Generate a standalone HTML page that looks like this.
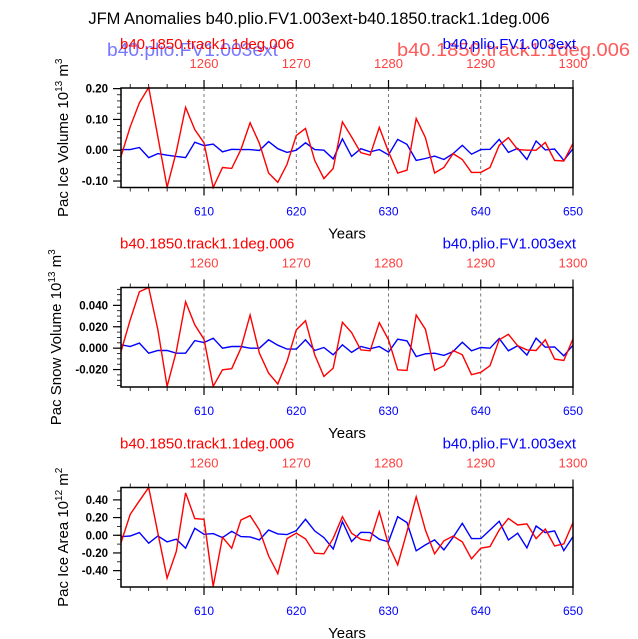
<!DOCTYPE html>
<html><head><meta charset="utf-8"><style>
html,body{margin:0;padding:0;background:#fff;}
svg{display:block;font-family:"Liberation Sans",sans-serif;}
</style></head><body>
<svg id="chart" width="638" height="639" viewBox="0 0 638 639">
<text x="319" y="24" font-size="16.5" text-anchor="middle" fill="#000">JFM Anomalies b40.plio.FV1.003ext-b40.1850.track1.1deg.006</text>
<text x="107" y="56" font-size="18" fill="#7878ff" textLength="171" lengthAdjust="spacingAndGlyphs">b40.plio.FV1.003ext</text>
<text x="397" y="56" font-size="18" fill="#ff5a5a" textLength="233" lengthAdjust="spacingAndGlyphs">b40.1850.track1.1deg.006</text>
<g id="panels"></g>
</svg>
<script>
const years = [];
for (let y = 601; y <= 650; y++) years.push(y);
const xTicks = [610, 620, 630, 640, 650];
const topTickLabels = ["1260", "1270", "1280", "1290", "1300"];
const redLabel = "b40.1850.track1.1deg.006";
const blueLabel = "b40.plio.FV1.003ext";

const iceVolRed = [-0.02,0.076,0.154,0.204,0.043,-0.12,-0.005,0.139,0.067,0.024,-0.121,-0.056,-0.059,0.002,0.089,0.022,-0.074,-0.104,-0.046,0.048,0.071,-0.033,-0.092,-0.059,0.092,0.043,-0.008,-0.016,0.074,-0.005,-0.074,-0.065,0.103,0.041,-0.074,-0.056,-0.011,-0.03,-0.072,-0.072,-0.056,0.016,0.041,0.002,0.0,0.0,0.025,-0.033,-0.035,0.022];
const iceVolBlue = [0.002,0.002,0.009,-0.024,-0.011,-0.016,-0.02,-0.024,0.026,0.015,0.02,-0.005,0.003,0.002,0.002,-0.001,0.028,0.005,-0.007,0.0,0.024,0.002,0.0,-0.028,0.037,-0.02,0.005,-0.005,0.002,-0.015,0.035,0.019,-0.033,-0.027,-0.019,-0.03,-0.011,0.016,-0.013,0.002,0.003,0.035,-0.007,0.006,-0.03,0.03,0.001,0.004,-0.033,0.005];
const snowRed = [-0.0031,0.0264,0.0527,0.0567,0.0171,-0.0357,-0.0031,0.0434,0.0217,0.0084,-0.0357,-0.0202,-0.0192,0,0.031,-0.0047,-0.0233,-0.0335,-0.0124,0.0171,0.0257,-0.0062,-0.0264,-0.0186,0.0242,0.0146,-0.0016,-0.0025,0.0239,0.0078,-0.0202,-0.0208,0.031,0.0177,-0.0208,-0.0164,-0.0022,-0.0062,-0.0248,-0.0226,-0.0164,0.0078,0.013,0.0022,-0.0016,-0.0022,0.0078,-0.0102,-0.0115,0.0087];
const snowBlue = [0.0031,0.0016,0.0047,-0.0047,-0.0022,-0.0022,-0.0047,-0.0047,0.0071,0.0053,0.0093,0,0.0016,0.0016,0,0,0.0078,0.0028,-0.0009,-0.0009,0.0078,-0.0022,0.0006,-0.0062,0.0031,-0.004,0.0016,-0.0006,0.0016,-0.0037,0.0084,0.0068,-0.0078,-0.0053,-0.0047,-0.0068,-0.0031,0.0056,-0.0025,0.0006,0,0.009,-0.0025,0.0022,-0.0065,0.0093,0.0009,0.0012,-0.0071,0.0028];
const areaRed = [-0.083,0.236,0.39,0.54,0.023,-0.484,-0.184,0.48,0.188,0.18,-0.578,-0.023,-0.146,0.173,0.221,0.06,-0.233,-0.435,-0.038,0.023,-0.041,-0.203,-0.21,-0.034,0.21,0.023,-0.045,-0.064,0.266,-0.109,-0.334,0.041,0.435,0.06,-0.21,-0.064,-0.008,-0.075,-0.266,-0.146,-0.128,0.06,0.191,0.116,0.128,-0.038,0.071,-0.12,-0.098,0.143];
const areaBlue = [-0.015,-0.008,0.03,-0.09,-0.008,-0.075,-0.045,-0.146,0.079,0.011,0.019,-0.026,0.045,-0.015,-0.019,-0.053,0.06,0.015,0.008,0.053,0.18,0.049,-0.026,-0.154,0.154,-0.071,0.034,0.03,-0.045,-0.075,0.21,0.143,-0.176,-0.109,-0.053,-0.165,-0.023,0.135,-0.038,-0.038,0.06,0.158,-0.053,0.023,-0.143,0.105,0.03,0.049,-0.173,-0.015];

const iceVolTicks = [0.2, 0.1, 0.0, -0.1];
const iceVolTickLabels = ["0.20", "0.10", "0.00", "-0.10"];
const snowTicks = [0.04, 0.02, 0.0, -0.02];
const snowTickLabels = ["0.040", "0.020", "0.000", "-0.020"];
const areaTicks = [0.4, 0.2, 0.0, -0.2, -0.4];
const areaTickLabels = ["0.40", "0.20", "0.00", "-0.20", "-0.40"];

const NS = "http://www.w3.org/2000/svg";
const root = document.getElementById("panels");
function mk(tag, attrs, parent) {
  const e = document.createElementNS(NS, tag);
  for (const k in attrs) e.setAttribute(k, attrs[k]);
  (parent || root).appendChild(e);
  return e;
}

const panels = [
  {top: 88, yMin: -0.121, yMax: 0.202, red: iceVolRed, blue: iceVolBlue, ticks: iceVolTicks, labels: iceVolTickLabels, minor: 0.02, title: ["Pac Ice Volume 10", "13", " m", "3"], tx: 68, name: "ice-volume"},
  {top: 287.5, yMin: -0.0363, yMax: 0.0567, red: snowRed, blue: snowBlue, ticks: snowTicks, labels: snowTickLabels, minor: 0.005, title: ["Pac Snow Volume 10", "13", " m", "3"], tx: 61, name: "snow-volume"},
  {top: 487.5, yMin: -0.585, yMax: 0.54, red: areaRed, blue: areaBlue, ticks: areaTicks, labels: areaTickLabels, minor: 0.1, title: ["Pac Ice Area 10", "12", " m", "2"], tx: 68, name: "ice-area"}
];
const L = 121, R = 573, H = 99.5;
const xs = v => L + (v - 601) / (650 - 601) * (R - L);

panels.forEach(p => {
  const g = mk("g", {});
  
  
  const T = p.top, B = p.top + H;
  const ys = v => B - (v - p.yMin) / (p.yMax - p.yMin) * H;

  const rl = mk("text", {x: L - 1, y: T - 39, "font-size": 15, fill: "#ff0000"}, g);
  rl.textContent = redLabel;
  
  
  const bl = mk("text", {x: R + 3, y: T - 39, "font-size": 15, fill: "#0000ff", "text-anchor": "end"}, g);
  bl.textContent = blueLabel;
  
  

  [610, 620, 630, 640].forEach(v => {
    const gl = mk("line", {x1: xs(v), x2: xs(v), y1: T, y2: B, stroke: "#555", "stroke-width": 0.8, "stroke-dasharray": "3,3"}, g);
    
    
  });

  for (let v = 602; v <= 650; v += 2) {
    const major = v % 10 === 0;
    const len = major ? 8 : 4;
    mk("line", {x1: xs(v), x2: xs(v), y1: B, y2: B + len, stroke: "#000", "stroke-width": major ? 1.2 : 0.8}, g);
    mk("line", {x1: xs(v), x2: xs(v), y1: T, y2: T - len, stroke: "#000", "stroke-width": major ? 1.2 : 0.8}, g);
  }
  xTicks.forEach((v, i) => {
    const t = mk("text", {x: xs(v), y: B + 28, "font-size": 12, fill: "#0000ff", "text-anchor": "middle"}, g);
    t.textContent = v;
    
    
    const t2 = mk("text", {x: xs(v), y: T - 20, "font-size": 13, fill: "#ff4040", "text-anchor": "middle"}, g);
    t2.textContent = topTickLabels[i];
    
    
  });
  const yt = mk("text", {x: (L + R) / 2, y: B + 51, "font-size": 15, "text-anchor": "middle"}, g);
  yt.textContent = "Years";
  
  

  const lo = Math.ceil(p.yMin / p.minor - 1e-6), hi = Math.floor(p.yMax / p.minor + 1e-6);
  for (let k = lo; k <= hi; k++) {
    mk("line", {x1: L, x2: L - 4, y1: ys(k * p.minor), y2: ys(k * p.minor), stroke: "#000", "stroke-width": 0.8}, g);
  }
  p.ticks.forEach((v, i) => {
    mk("line", {x1: L, x2: L - 8, y1: ys(v), y2: ys(v), stroke: "#000", "stroke-width": 1.2}, g);
    const t = mk("text", {x: L - 13, y: ys(v) + 4, "font-size": 11.5, "text-anchor": "end", "font-weight": "bold"}, g);
    t.textContent = p.labels[i];
    
    
  });

  const cy = T + H / 2;
  const tt = mk("text", {x: 0, y: 0, "font-size": 15, "text-anchor": "middle", transform: `translate(${p.tx},${cy}) rotate(-90)`}, g);
  
  
  p.title.forEach((s, i) => {
    const ts = mk("tspan", i % 2 ? {"font-size": 10, dy: -6} : (i > 0 ? {dy: 6} : {}), tt);
    ts.textContent = s;
  });

  const mkPath = (arr, col, nm) => {
    const d = arr.map((v, i) => (i ? "L" : "M") + xs(years[i]).toFixed(1) + "," + ys(v).toFixed(1)).join("");
    const pa = mk("path", {d: d, fill: "none", stroke: col, "stroke-width": 1.4, "stroke-linejoin": "miter"}, g);
    
    
  };
  mkPath(p.blue, "#0000ff", "blue-series-line");
  mkPath(p.red, "#ff0000", "red-series-line");

  const fr = mk("rect", {x: L, y: T, width: R - L, height: H, fill: "none", stroke: "#000", "stroke-width": 1.5}, g);
  
  
});
</script>
</body></html>
